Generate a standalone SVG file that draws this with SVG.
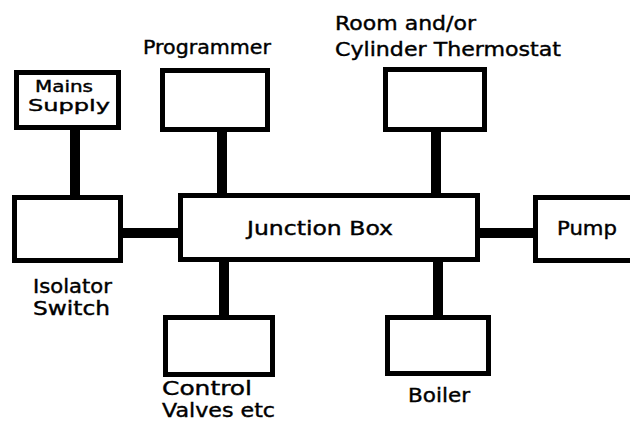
<svg xmlns="http://www.w3.org/2000/svg" width="630" height="426" viewBox="0 0 630 426">
<style>
.box{fill:#fff;stroke:#000;stroke-width:5}
.wire{stroke:#000;stroke-width:10;fill:none}
text{font-family:"DejaVu Sans","Liberation Sans",sans-serif;font-size:19px;fill:#000;stroke:#000;stroke-width:0.4}
.sm{font-size:16px}
</style>
<rect width="630" height="426" fill="#fff"/>
<g id="connectors">
<line class="wire" x1="75" y1="128" x2="75" y2="197"/>
<line class="wire" x1="121" y1="233" x2="180" y2="233"/>
<line class="wire" x1="222" y1="130" x2="222" y2="195"/>
<line class="wire" x1="436" y1="130" x2="436" y2="195"/>
<line class="wire" x1="478" y1="233" x2="535" y2="233"/>
<line class="wire" x1="224" y1="260" x2="224" y2="317"/>
<line class="wire" x1="438" y1="260" x2="438" y2="317"/>
</g>
<g id="mains">
<rect class="box" x="16.5" y="72.5" width="102" height="55"/>
<text class="sm" x="35" y="92" textLength="58" lengthAdjust="spacingAndGlyphs">Mains</text>
<text class="sm" x="28" y="111" textLength="82" lengthAdjust="spacingAndGlyphs">Supply</text>
</g>
<g id="isolator">
<rect class="box" x="14.5" y="197.5" width="106" height="63"/>
<text x="33" y="293" textLength="79" lengthAdjust="spacingAndGlyphs">Isolator</text>
<text x="33" y="315" textLength="77" lengthAdjust="spacingAndGlyphs">Switch</text>
</g>
<g id="programmer">
<rect class="box" x="162.5" y="70.5" width="105" height="59"/>
<text x="143" y="54" textLength="128" lengthAdjust="spacingAndGlyphs">Programmer</text>
</g>
<g id="thermostat">
<rect class="box" x="385.5" y="69.5" width="99" height="60"/>
<text x="335" y="30" textLength="141" lengthAdjust="spacingAndGlyphs">Room and/or</text>
<text x="335" y="56" textLength="226" lengthAdjust="spacingAndGlyphs">Cylinder Thermostat</text>
</g>
<g id="junction">
<rect class="box" x="180.5" y="195.5" width="297" height="64"/>
<text x="247" y="235" textLength="146" lengthAdjust="spacingAndGlyphs">Junction Box</text>
</g>
<g id="pump">
<rect class="box" x="535.5" y="197.5" width="110" height="63"/>
<text x="557" y="235" textLength="60" lengthAdjust="spacingAndGlyphs">Pump</text>
</g>
<g id="control">
<rect class="box" x="165.5" y="317.5" width="107" height="57"/>
<text x="162" y="395" textLength="90" lengthAdjust="spacingAndGlyphs">Control</text>
<text x="162" y="417" textLength="113" lengthAdjust="spacingAndGlyphs">Valves etc</text>
</g>
<g id="boiler">
<rect class="box" x="387.5" y="317.5" width="101" height="56"/>
<text x="408" y="402" textLength="62" lengthAdjust="spacingAndGlyphs">Boiler</text>
</g>
</svg>
